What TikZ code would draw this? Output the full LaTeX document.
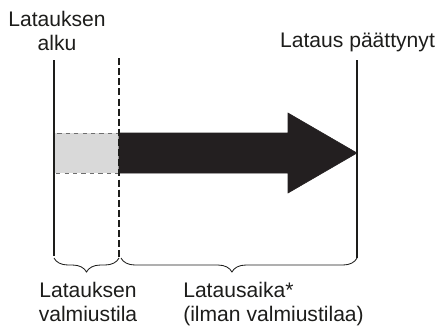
\documentclass[tikz,border=0pt]{standalone}
\usepackage{fontspec}
\setmainfont{Liberation Sans}
\usetikzlibrary{decorations.pathreplacing}
\definecolor{ink}{HTML}{1D1D1B}
\definecolor{bar}{HTML}{231F20}
\definecolor{prepfill}{HTML}{D9D9D9}
\definecolor{prepedge}{HTML}{6E6E6E}
\tikzset{
  mark line/.style={draw=ink, line width=0.75pt},
  prep line/.style={draw=ink, line width=0.75pt, dash pattern=on 5pt off 2.2pt},
  prep box/.style={fill=prepfill, draw=prepedge, line width=0.7pt, dash pattern=on 3pt off 3pt},
  bar arrow/.style={fill=bar, draw=bar, line width=0.4pt},
  span brace/.style={draw=ink, line width=0.6pt, decorate, decoration={brace, mirror, amplitude=0.35cm}},
  lab/.style={font=\fontsize{15}{17}\selectfont, text=ink, inner sep=0pt},
}
\begin{document}
\begin{tikzpicture}[x=0.025cm, y=-0.025cm]
  \useasboundingbox (0,0) rectangle (439,325);
  % time marks
  \coordinate (startTop) at (54,60);
  \coordinate (startBot) at (54,256);
  \coordinate (readyTop) at (119,58);
  \coordinate (readyBot) at (119,258);
  \coordinate (endTop) at (357,60);
  \coordinate (endBot) at (357,258);
  % standby part and charging arrow
  \draw[prep box] (54,133) rectangle (119,173);
  \draw[bar arrow] (119,133) -- (288,133) -- (288,113) -- (357,153)
    -- (288,193) -- (288,173) -- (119,173) -- cycle;
  \draw[mark line] (startTop) -- (startBot);
  \draw[prep line] (readyTop) -- (readyBot);
  \draw[mark line] (endTop) -- (endBot);
  % spans
  \coordinate (braceA) at (54,258);
  \draw[span brace] (braceA) -- (readyBot);
  \coordinate (braceB) at (121,258);
  \draw[span brace, decoration={aspect=0.47}] (braceB) -- (endBot);
  % labels
  \node[lab, align=center, anchor=base] (startLab) at (57,50) {Latauksen\\alku};
  \node[lab, anchor=base] (endLab) at (357.5,47) {Lataus päättynyt};
  \node[lab, align=center, anchor=base] (prepLab) at (88,321) {Latauksen\\valmiustila};
  \node[lab, align=left, anchor=base west] (timeLab) at (183,321) {Latausaika*\\(ilman valmiustilaa)};
\end{tikzpicture}
\end{document}
